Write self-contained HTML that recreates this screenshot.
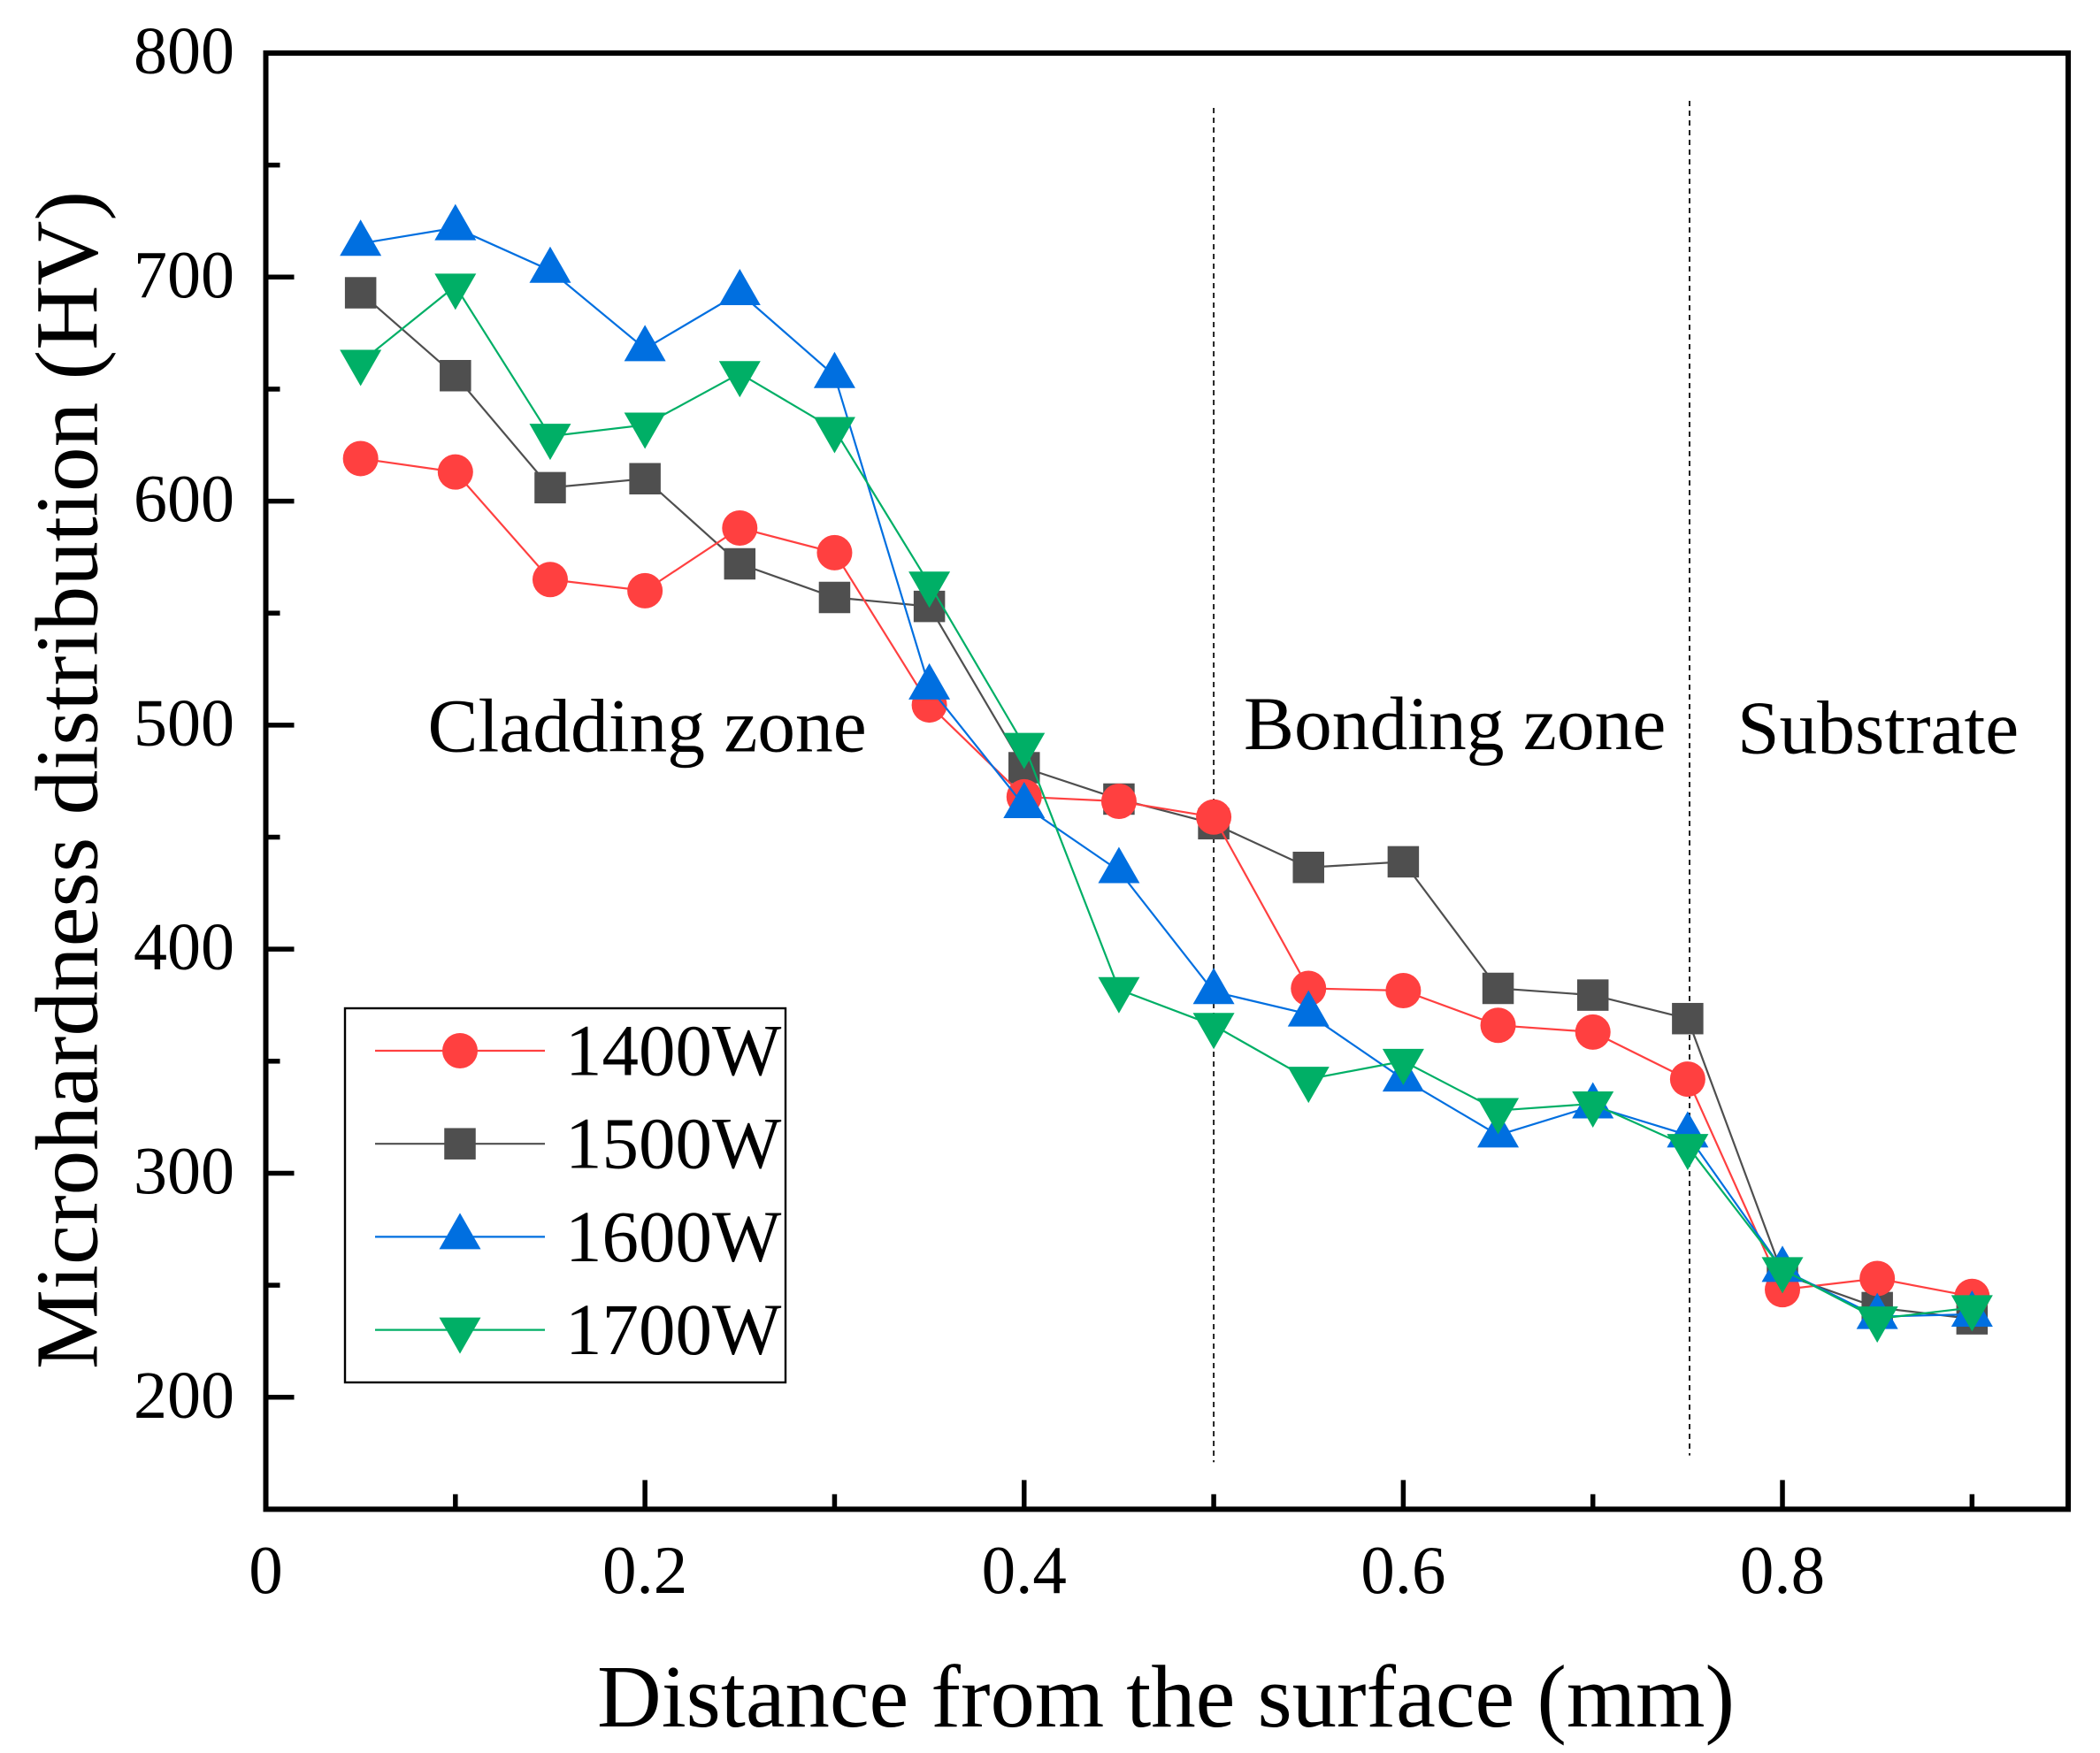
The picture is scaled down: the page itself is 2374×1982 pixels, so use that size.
<!DOCTYPE html>
<html>
<head>
<meta charset="utf-8">
<title>Microhardness distribution chart</title>
<style>
html,body{margin:0;padding:0;background:#fff;}
svg{display:block;}
text{font-family:"Liberation Serif",serif;fill:#000;}
</style>
</head>
<body>
<svg id="chart" xmlns="http://www.w3.org/2000/svg" width="2374" height="1982" viewBox="0 0 2374 1982">
  <rect x="0" y="0" width="2374" height="1982" fill="#fff"/>
  <g id="guides"></g>
  <g id="series"></g>
  <g id="axes"></g>
  <text x="1318" y="1952" font-size="100.7" text-anchor="middle">Distance from the surface (mm)</text>
  <text transform="translate(109.5,882) rotate(-90)" font-size="101.2" text-anchor="middle">Microhardness distribution (HV)</text>
  <text x="483.5" y="849.5" font-size="85.5">Cladding zone</text>
  <text x="1406" y="847" font-size="85.5">Bonding zone</text>
  <text x="1964" y="851.7" font-size="85.5">Substrate</text>
  <g id="legend"></g>
</svg>
<script>
const distances = [0.05,0.1,0.15,0.2,0.25,0.3,0.35,0.4,0.45,0.5,0.55,0.6,0.65,0.7,0.75,0.8,0.85,0.9];
const hv1400 = [619,613,565,560,588,577,509,468,466,459,382.5,381.5,366,363,342,248,253,245];
const hv1500 = [693,656,606,610,572,557,553,481,467,456,436.5,439,382.5,379.5,369,255,240,235];
const hv1600 = [715,722,703,668,693,656,517,464,435,381,371,342,317,330,317,257,236,237];
const hv1700 = [662,696,629,634,657,632,563,491,382,366,342,350,328,331,312,257,235,240];
const seriesNames = ["1400W","1500W","1600W","1700W"];
const xMajorTicks = [0,0.2,0.4,0.6,0.8];
const xMajorLabels = ["0","0.2","0.4","0.6","0.8"];
const xMinorTicks = [0.1,0.3,0.5,0.7,0.9];
const yMajorTicks = [200,300,400,500,600,700,800];
const yMajorLabels = ["200","300","400","500","600","700","800"];
const yMinorTicks = [250,350,450,550,650,750];
const boundaryX = [0.5,0.751];
const boundaryTop = [775.5,778.7];
const boundaryBottom = [171,174];

const NS = "http://www.w3.org/2000/svg";
const L = 300.5, R = 2338, T = 60, B = 1706.4;
const xMin = 0, xMax = 0.9507, yMin = 150, yMax = 800;
function sx(v){ return L + (v - xMin) / (xMax - xMin) * (R - L); }
function sy(v){ return B - (v - yMin) / (yMax - yMin) * (B - T); }
function mk(tag, parent, attrs){
  const el = document.createElementNS(NS, tag);
  for (const k in attrs) el.setAttribute(k, attrs[k]);
  parent.appendChild(el);
  return el;
}
const styles = {
  "1400W": {color:"#FF4040", shape:"circle"},
  "1500W": {color:"#4F4F4F", shape:"square"},
  "1600W": {color:"#006FE0", shape:"up"},
  "1700W": {color:"#00AF66", shape:"down"}
};
function marker(parent, shape, color, x, y){
  let el;
  if (shape === "circle") {
    el = mk("circle", parent, {cx:x, cy:y, r:20, fill:color});
  } else if (shape === "square") {
    el = mk("rect", parent, {x:x-17.75, y:y-17.75, width:35.5, height:35.5, fill:color});
  } else if (shape === "up") {
    el = mk("polygon", parent, {points:(x)+","+(y-27)+" "+(x+23.5)+","+(y+14)+" "+(x-23.5)+","+(y+14), fill:color});
  } else {
    el = mk("polygon", parent, {points:(x)+","+(y+27)+" "+(x+23.5)+","+(y-14)+" "+(x-23.5)+","+(y-14), fill:color});
  }
  return el;
}

/* zone boundaries */
const guides = document.getElementById("guides");
boundaryX.forEach(function(b, i){
  const ln = mk("line", guides, {x1:sx(b), x2:sx(b), y1:sy(boundaryTop[i]), y2:sy(boundaryBottom[i]), stroke:"#222", "stroke-width":2, "stroke-dasharray":"6 5"});
  
  
});

/* series: stacking order follows the picture */
const seriesLayer = document.getElementById("series");
function drawSeries(name, values){
  const st = styles[name];
  const g = mk("g", seriesLayer, {});
  
  
  const pts = values.map(function(v, i){ return sx(distances[i]) + "," + sy(v); }).join(" ");
  const line = mk("polyline", g, {points:pts, fill:"none", stroke:st.color, "stroke-width":2.2});
  
  
  values.forEach(function(v, i){
    const m = marker(g, st.shape, st.color, sx(distances[i]), sy(v));
    
    
  });
}
drawSeries("1500W", hv1500);
drawSeries("1400W", hv1400);
drawSeries("1600W", hv1600);
drawSeries("1700W", hv1700);

/* axes */
const axes = document.getElementById("axes");
const frame = mk("rect", axes, {x:L, y:T, width:R-L, height:B-T, fill:"none", stroke:"#000", "stroke-width":6});


xMajorTicks.forEach(function(v, i){
  const t = mk("line", axes, {x1:sx(v), x2:sx(v), y1:B, y2:B-33, stroke:"#000", "stroke-width":5.5});
  
  
  const lab = mk("text", axes, {x:sx(v), y:1801, "font-size":77, "text-anchor":"middle"});
  lab.textContent = xMajorLabels[i];
  
  
});
xMinorTicks.forEach(function(v){
  const t = mk("line", axes, {x1:sx(v), x2:sx(v), y1:B, y2:B-17, stroke:"#000", "stroke-width":5.5});
  
  
});
yMajorTicks.forEach(function(v, i){
  const t = mk("line", axes, {x1:L, x2:L+32, y1:sy(v), y2:sy(v), stroke:"#000", "stroke-width":5.5});
  
  
  const lab = mk("text", axes, {x:265, y:sy(v)+23, "font-size":76, "text-anchor":"end"});
  lab.textContent = yMajorLabels[i];
  
  
});
yMinorTicks.forEach(function(v){
  const t = mk("line", axes, {x1:L, x2:L+16, y1:sy(v), y2:sy(v), stroke:"#000", "stroke-width":5.5});
  
  
});

/* legend */
const legend = document.getElementById("legend");
const box = mk("rect", legend, {x:390, y:1140, width:498, height:423, fill:"#fff", stroke:"#000", "stroke-width":2.4});


seriesNames.forEach(function(name, i){
  const st = styles[name];
  const y = 1188 + i * 105.2;
  const g = mk("g", legend, {});
  
  
  const ln = mk("line", g, {x1:424, x2:616, y1:y, y2:y, stroke:st.color, "stroke-width":2.2});
  
  
  const m = marker(g, st.shape, st.color, 520, y);
  
  
  const tx = mk("text", g, {x:639, y:y+27.5, "font-size":83});
  tx.textContent = name;
  
  
});
</script>
</body>
</html>
